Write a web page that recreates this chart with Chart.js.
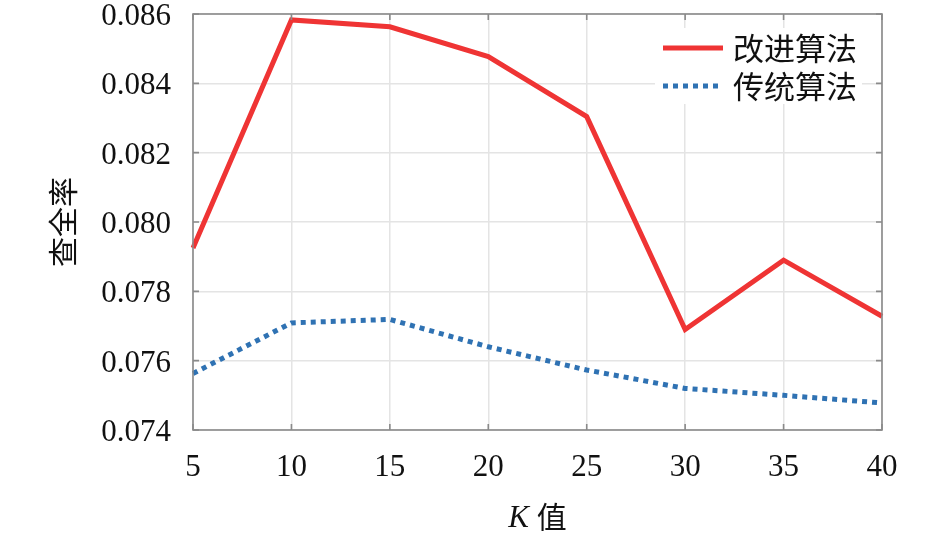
<!DOCTYPE html>
<html><head><meta charset="utf-8">
<script src="https://cdn.jsdelivr.net/npm/chart.js@4"></script>
<style>html,body{margin:0;padding:0;background:#fff}</style>
</head><body>
<canvas id="c" width="945" height="536"></canvas>
<script>
const kValues = [5, 10, 15, 20, 25, 30, 35, 40];
const improved = [0.07925, 0.08583, 0.08563, 0.08477, 0.08304, 0.07690, 0.07890, 0.07728];
const traditional = [0.07563, 0.07709, 0.07719, 0.07640, 0.07573, 0.07520, 0.07500, 0.07478];
const seriesNames = ['改进算法', '传统算法'];
const yTicks = [0.074, 0.076, 0.078, 0.080, 0.082, 0.084, 0.086];
const xTitleItalic = 'K';
const xTitleRest = '值';
const yTitle = '查全率';

const RED = '#ef3434';
const BLUE = '#2f72b3';
const AXIS = '#8a8a8a';
const GRID = '#e4e4e4';
const SERIF = '"Liberation Serif", "Times New Roman", serif';
const CJK = '"Noto Sans CJK SC", sans-serif';

const framePlugin = {
  id: 'frame',
  afterDraw(chart) {
    const {ctx, chartArea: a, scales} = chart;
    ctx.save();
    ctx.strokeStyle = AXIS;
    ctx.lineWidth = 1.6;
    const L = 6;
    ctx.beginPath();
    scales.x.ticks.forEach((t, i) => {
      const px = scales.x.getPixelForTick(i);
      ctx.moveTo(px, a.bottom); ctx.lineTo(px, a.bottom - L);
      ctx.moveTo(px, a.top); ctx.lineTo(px, a.top + L);
    });
    scales.y.ticks.forEach((t, i) => {
      const py = scales.y.getPixelForTick(i);
      ctx.moveTo(a.left, py); ctx.lineTo(a.left + L, py);
      ctx.moveTo(a.right, py); ctx.lineTo(a.right - L, py);
    });
    ctx.stroke();
    ctx.strokeRect(a.left, a.top, a.right - a.left, a.bottom - a.top);

    // legend
    const ds = chart.data.datasets;
    const bx = a.right - 227, by = a.top + 14, bw = 207, bh = 76;
    ctx.fillStyle = '#fff';
    ctx.fillRect(bx, by, bw, bh);
    ds.forEach((d, i) => {
      const y = by + 20 + i * 38;
      ctx.beginPath();
      ctx.strokeStyle = d.borderColor;
      ctx.lineWidth = d.borderWidth;
      ctx.setLineDash(d.borderDash || []);
      ctx.moveTo(bx + 8, y); ctx.lineTo(bx + 68, y);
      ctx.stroke();
      ctx.setLineDash([]);
      ctx.fillStyle = '#111';
      ctx.font = '31px ' + CJK;
      ctx.textBaseline = 'middle';
      ctx.textAlign = 'left';
      ctx.fillText(d.label, bx + 78, y);
    });

    // x title with italic K
    const cx = (a.left + a.right) / 2;
    const ty = 517;
    ctx.font = 'italic 31px ' + SERIF;
    const w1 = ctx.measureText(xTitleItalic).width;
    ctx.font = '30px ' + CJK;
    const w2 = ctx.measureText(xTitleRest).width;
    const gap = 8;
    const start = cx - (w1 + gap + w2) / 2;
    ctx.fillStyle = '#111';
    ctx.textBaseline = 'middle';
    ctx.textAlign = 'left';
    ctx.font = 'italic 31px ' + SERIF;
    ctx.fillText(xTitleItalic, start, ty + 2);
    ctx.font = '30px ' + CJK;
    ctx.fillText(xTitleRest, start + w1 + gap, ty);
    ctx.restore();
  }
};

new Chart(document.getElementById('c'), {
  type: 'line',
  data: {
    labels: kValues,
    datasets: [
      { label: seriesNames[0], data: improved, borderColor: RED, borderWidth: 5,
        pointRadius: 0, tension: 0, fill: false },
      { label: seriesNames[1], data: traditional, borderColor: BLUE, borderWidth: 5,
        borderDash: [5, 5], borderCapStyle: 'butt', pointRadius: 0, tension: 0, fill: false }
    ]
  },
  options: {
    responsive: false,
    animation: false,
    devicePixelRatio: 1,
    layout: { padding: { top: 14, right: 63, left: 0, bottom: 0 } },
    plugins: { legend: { display: false }, tooltip: { enabled: false } },
    scales: {
      x: {
        type: 'category',
        offset: false,
        grid: { color: GRID, lineWidth: 1.5, drawTicks: false },
        border: { display: false },
        ticks: { color: '#111', font: { family: SERIF, size: 31 }, padding: 19, maxRotation: 0, autoSkip: false },
        afterFit(s) { s.height = 106; s.paddingLeft = 0; s.paddingRight = 0; }
      },
      y: {
        type: 'linear',
        min: 0.074, max: 0.086,
        afterBuildTicks(s) { s.ticks = yTicks.map(v => ({ value: v })); },
        grid: { color: GRID, lineWidth: 1.5, drawTicks: false },
        border: { display: false },
        ticks: { color: '#111', font: { family: SERIF, size: 31 }, padding: 22, labelOffset: 3,
          callback: v => Number(v).toFixed(3) },
        title: { display: true, text: yTitle, color: '#111', font: { family: CJK, size: 30 },
          padding: { top: 45, bottom: 0 } },
        afterFit(s) { s.width = 193; s.paddingTop = 0; s.paddingBottom = 0; }
      }
    }
  },
  plugins: [framePlugin]
});
</script>
</body></html>
